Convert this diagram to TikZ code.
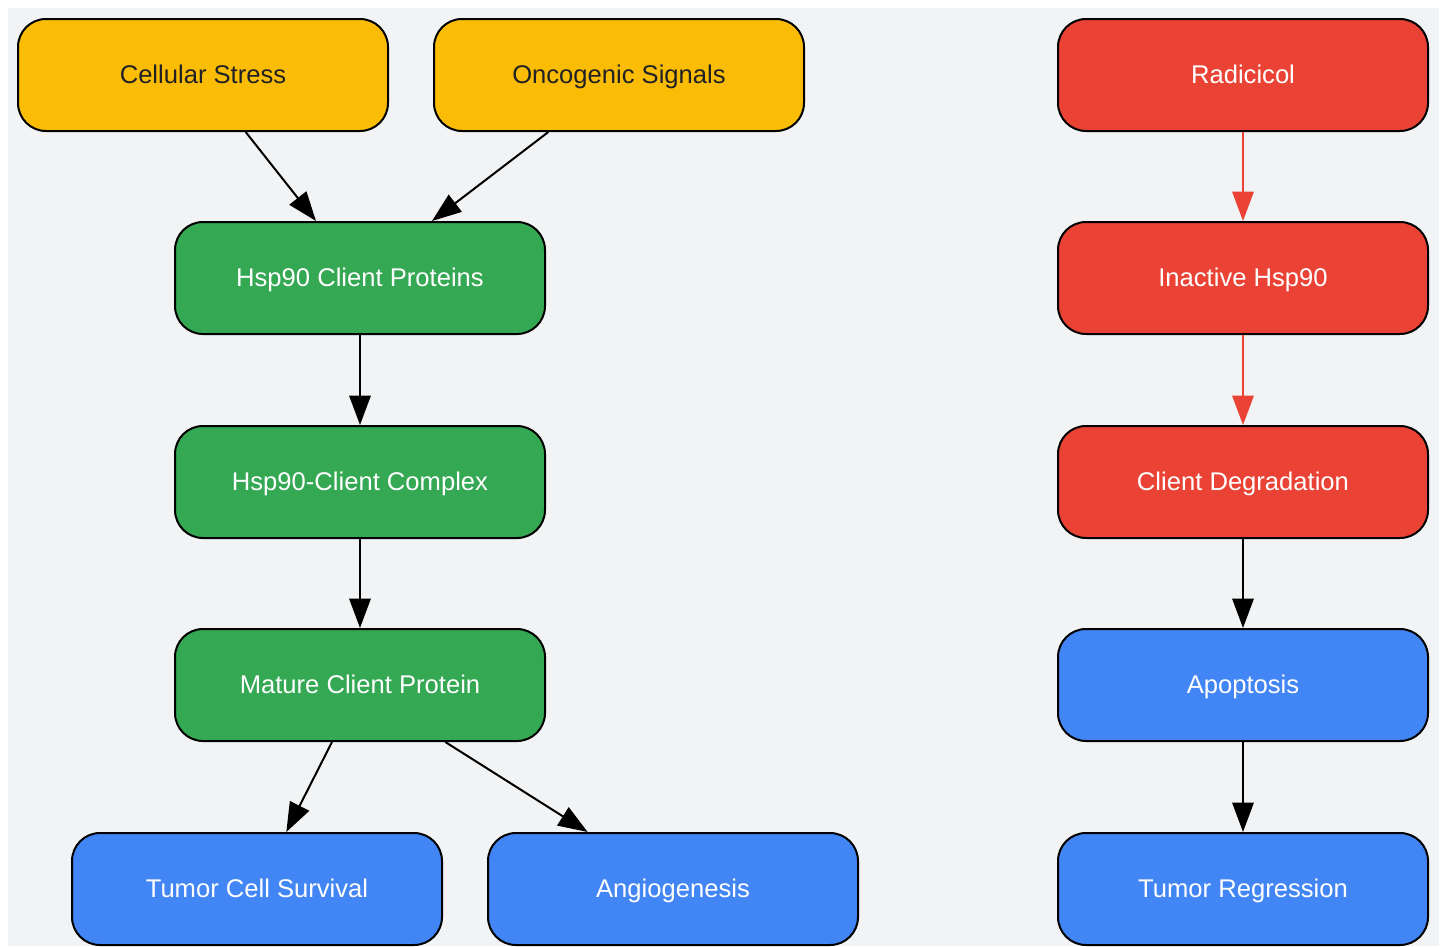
\documentclass[tikz,border=0pt]{standalone}
\usepackage{fontspec}
\setmainfont{Liberation Sans}
\usetikzlibrary{arrows.meta}
\definecolor{bgpanel}{HTML}{F1F3F4}
\definecolor{gyellow}{HTML}{FBBC05}
\definecolor{ggreen}{HTML}{34A853}
\definecolor{gred}{HTML}{EA4335}
\definecolor{gblue}{HTML}{4285F4}
\definecolor{darktext}{HTML}{202124}

\begin{document}
\begin{tikzpicture}[x=0.75pt,y=-0.75pt]
    \tikzset{box/.style={draw,line width=1.5pt,rounded corners=21pt,
        minimum width=277.5pt,minimum height=84pt,align=center,
        text height=1.25em,text depth=0pt,
        font=\fontsize{19.2}{23}\selectfont,text=white},
    trigger/.style={box,fill=gyellow,text=darktext},
    chaperone/.style={box,fill=ggreen},
    drug/.style={box,fill=gred},
    outcome/.style={box,fill=gblue},
    link/.style={line width=1.5pt,-{Triangle[length=22pt,width=16pt]}},
    druglink/.style={link,draw=gred,-{Triangle[length=22pt,width=16pt,fill=gred]}}}
    \useasboundingbox (0,0) rectangle (1445,946);
    \fill[bgpanel] (8,8) rectangle (1439,946);
    % triggers and inhibitor
    \node[trigger] (stress) at (203,75) {Cellular Stress};
    \node[trigger] (onco) at (619,75) {Oncogenic Signals};
    \node[drug] (radi) at (1243,75) {Radicicol};
    % chaperone cycle
    \node[chaperone] (clients) at (360,278) {Hsp90 Client Proteins};
    \node[chaperone] (complex) at (360,482) {Hsp90-Client Complex};
    \node[chaperone] (mature) at (360,685) {Mature Client Protein};
    \node[drug] (inact) at (1243,278) {Inactive Hsp90};
    \node[drug] (degrad) at (1243,482) {Client Degradation};
    \node[outcome] (apopt) at (1243,685) {Apoptosis};
    % outcomes
    \node[outcome] (survival) at (257,889) {Tumor Cell Survival};
    \node[outcome] (angio) at (673,889) {Angiogenesis};
    \node[outcome] (regress) at (1243,889) {Tumor Regression};
    \draw[link] ([xshift=32pt]stress.south) -- ([xshift=-33pt]clients.north);
    \draw[link] ([xshift=-53pt]onco.south) -- ([xshift=54pt]clients.north);
    \draw[link] (clients) -- (complex);
    \draw[link] (complex) -- (mature);
    \draw[link] ([xshift=-21pt]mature.south) -- ([xshift=22pt]survival.north);
    \draw[link] ([xshift=64pt]mature.south) -- ([xshift=-64pt]angio.north);
    \draw[druglink] (radi) -- (inact);
    \draw[druglink] (inact) -- (degrad);
    \draw[link] (degrad) -- (apopt);
    \draw[link] (apopt) -- (regress);
\end{tikzpicture}
\end{document}
